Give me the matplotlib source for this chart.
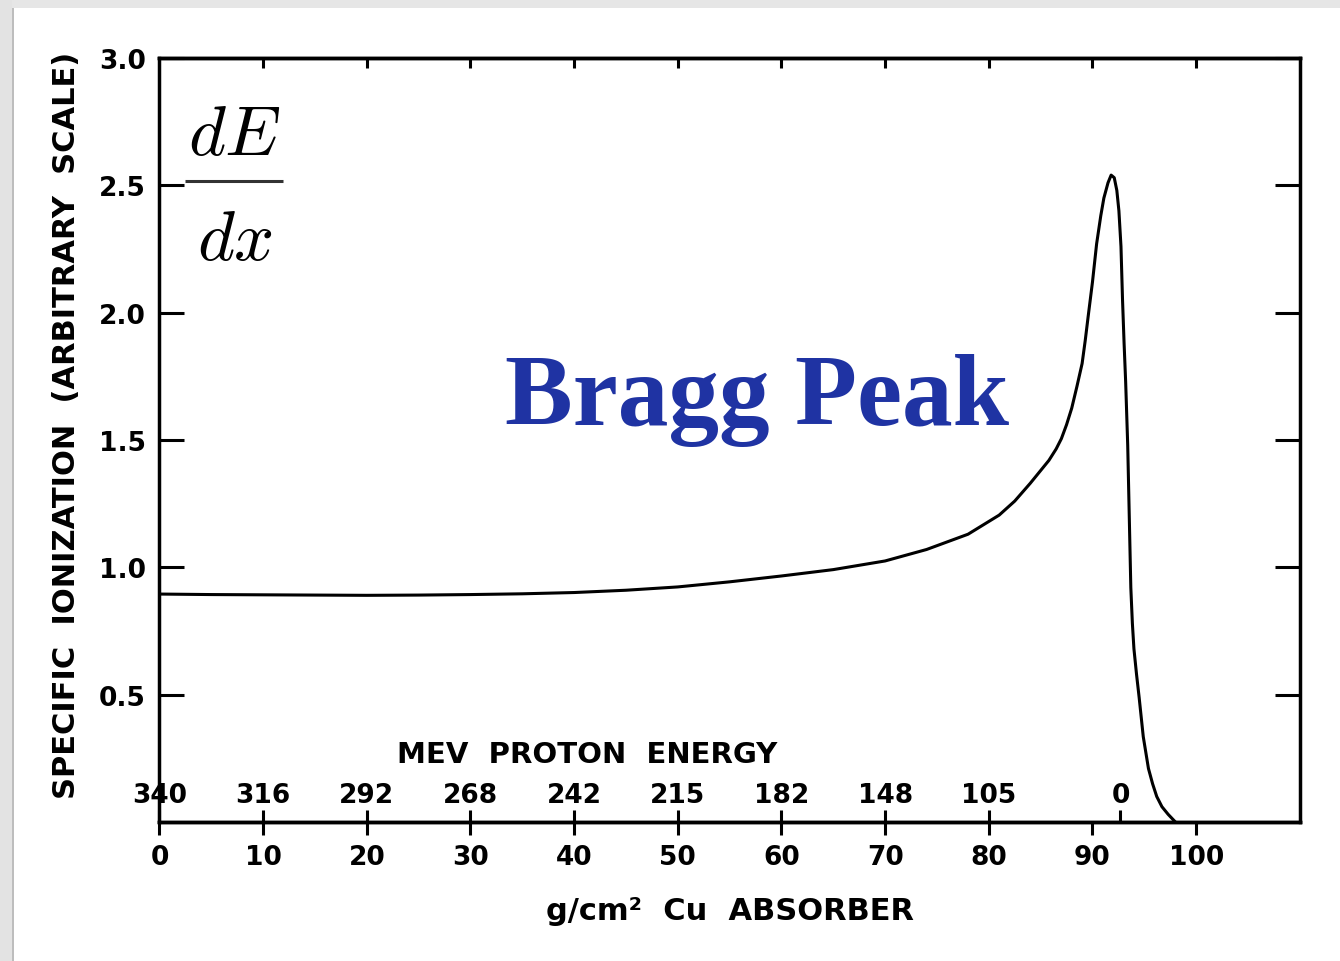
import matplotlib
matplotlib.use('Agg')
import matplotlib.pyplot as plt
from matplotlib.patches import Rectangle

# Specific ionization along the proton track in copper
depth = [0, 5, 10, 15, 20, 25, 30, 35, 40, 45, 50, 55, 60, 65, 70, 74, 78,
         81, 82.5, 84, 85, 85.8, 86.5, 87.0, 87.5, 88.0, 88.5, 89.0, 89.3,
         89.6, 90.0, 90.4, 90.8, 91.1, 91.5, 91.8, 92.1, 92.35, 92.55, 92.75,
         92.9, 93.05, 93.2, 93.4, 93.55, 93.7, 93.85, 94.0, 94.25, 94.5, 94.9,
         95.4, 95.8, 96.2, 96.7, 97.3, 98.0]
ionization = [0.895, 0.893, 0.892, 0.891, 0.890, 0.891, 0.893, 0.896, 0.901,
              0.910, 0.923, 0.943, 0.966, 0.991, 1.025, 1.07, 1.13,
              1.205, 1.26, 1.33, 1.38, 1.42, 1.465, 1.505, 1.56, 1.625, 1.71,
              1.80, 1.89, 1.99, 2.12, 2.27, 2.38, 2.45, 2.51, 2.54, 2.53, 2.48,
              2.40, 2.26, 2.05, 1.88, 1.73, 1.48, 1.20, 0.92, 0.78, 0.68, 0.58,
              0.49, 0.335, 0.21, 0.15, 0.10, 0.06, 0.03, 0.0]

depth_ticks = [0, 10, 20, 30, 40, 50, 60, 70, 80, 90, 100]
ion_ticks = [0.5, 1.0, 1.5, 2.0, 2.5, 3.0]
ion_labels = ['0.5', '1.0', '1.5', '2.0', '2.5', '3.0']

# proton energy (MeV) at each depth
energy_pos = [0, 10, 20, 30, 40, 50, 60, 70, 80, 92.7]
energy_labels = ['340', '316', '292', '268', '242', '215', '182', '148', '105', '0']

lw = 2.2
fnt = dict(family='DejaVu Sans', weight='bold')

fig = plt.figure(figsize=(13.4, 9.62), dpi=100)
fig.patch.set_facecolor('white')
# grey slide frame on top and left
fig.patches.append(Rectangle((0, 1 - 9 / 962), 1, 9 / 962, transform=fig.transFigure,
                             facecolor='#e6e6e6', edgecolor='none', zorder=0))
fig.patches.append(Rectangle((0, 0), 12 / 1340, 1, transform=fig.transFigure,
                             facecolor='#e3e3e3', edgecolor='none', zorder=0))
fig.patches.append(Rectangle((12 / 1340, 0), 2 / 1340, 1 - 9 / 962, transform=fig.transFigure,
                             facecolor='#bdbdbd', edgecolor='none', zorder=0))

ax = fig.add_axes([0.119, 0.1445, 0.851, 0.7942])
ax.plot(depth, ionization, color='black', lw=lw, solid_joinstyle='round',
        solid_capstyle='round')
ax.set_xlim(0, 110)
ax.set_ylim(0, 3)

for sp in ax.spines.values():
    sp.set_linewidth(2.5)

ax.set_xticks(depth_ticks)
ax.set_xticklabels([str(v) for v in depth_ticks], **fnt, fontsize=19)
ax.set_yticks(ion_ticks)
ax.set_yticklabels(ion_labels, **fnt, fontsize=19)
ax.tick_params(axis='x', direction='out', length=9, width=lw, pad=7)
ax.tick_params(axis='y', left=True, right=True, direction='in', length=18,
               width=lw, pad=10)

# short inward ticks along the top
top = ax.secondary_xaxis('top')
top.set_xticks(depth_ticks[1:])
top.tick_params(direction='in', length=7, width=lw, labeltop=False)
top.spines['top'].set_linewidth(2.5)

# energy scale drawn just inside the bottom axis
en = ax.secondary_xaxis('bottom')
en.set_xticks(energy_pos)
en.set_xticklabels(energy_labels, **fnt, fontsize=19)
en.tick_params(direction='in', length=9, width=lw, pad=-29)
en.spines['bottom'].set_linewidth(2.5)

ax.text(0.375, 0.089, 'MEV  PROTON  ENERGY', transform=ax.transAxes,
        ha='center', va='center', fontsize=21, **fnt)

ax.set_ylabel('SPECIFIC  IONIZATION  (ARBITRARY  SCALE)', fontsize=22, **fnt)
ax.yaxis.set_label_coords(-0.069, 0.52)
ax.set_xlabel('g/cm²  Cu  ABSORBER', fontsize=22, **fnt)
ax.xaxis.set_label_coords(0.5, -0.097)

# dE/dx written as a stacked fraction
ax.text(0.066, 0.874, r'$dE$', transform=ax.transAxes, ha='center',
        va='baseline', fontsize=51, math_fontfamily='cm')
ax.text(0.066, 0.737, r'$dx$', transform=ax.transAxes, ha='center',
        va='baseline', fontsize=51, math_fontfamily='cm')
ax.plot([0.0225, 0.1085], [0.839, 0.839], transform=ax.transAxes,
        color='#333333', lw=2.2, solid_capstyle='butt')

ax.text(0.524, 0.521, 'Bragg Peak', transform=ax.transAxes, ha='center',
        va='baseline', fontsize=73, family='Liberation Serif', weight='bold',
        color='#1f33a3')

fig.savefig('out.png', dpi=100)
